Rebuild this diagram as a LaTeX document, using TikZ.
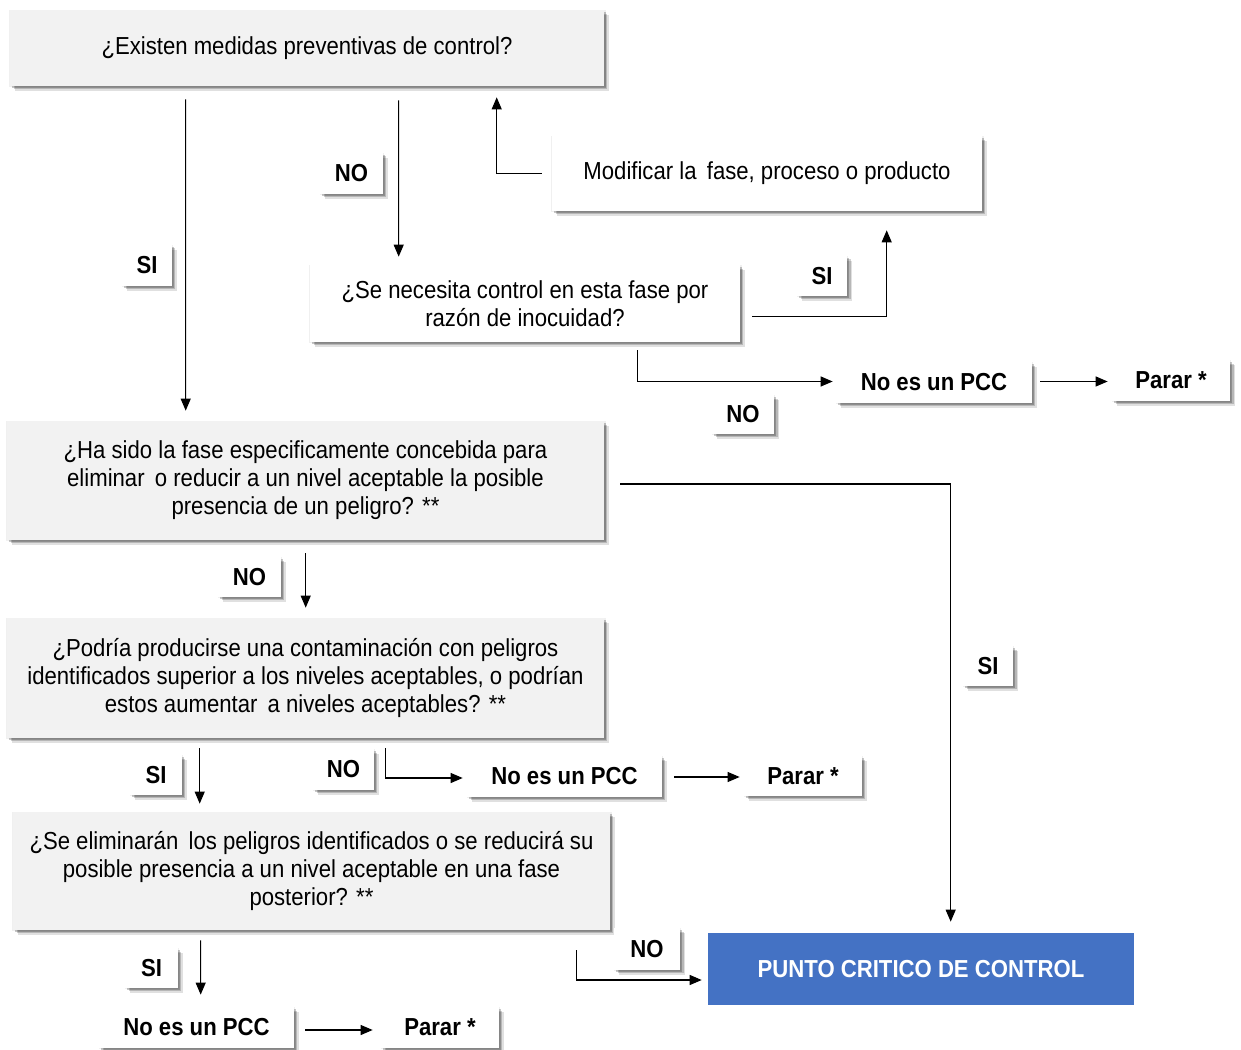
\documentclass[tikz,border=0pt]{standalone}
\usepackage{fontspec}
\setmainfont{Liberation Sans}[FakeStretch=0.9]
\usetikzlibrary{shadows,calc,arrows.meta}
\definecolor{qgray}{HTML}{F2F2F2}
\definecolor{pccblue}{HTML}{4472C4}
\begin{document}
\begin{tikzpicture}[x=0.02cm,y=-0.02cm,
  every node/.style={font=\fontsize{14}{16}\selectfont, inner sep=0pt, align=center},
  shad/.style={
    drop shadow={shadow xshift=0.1cm, shadow yshift=-0.1cm, fill=black, opacity=0.12},
    drop shadow={shadow xshift=0.07cm, shadow yshift=-0.07cm, fill=black, opacity=0.18},
    drop shadow={shadow xshift=0.04cm, shadow yshift=-0.04cm, fill=black, opacity=0.22},
    drop shadow={shadow xshift=0.01cm, shadow yshift=-0.01cm, shadow scale=1.006, fill=black, opacity=0.06}},
  qbox/.style={shad, fill=qgray},
  wbox/.style={shad, fill=white},
  lbl/.style={shad, fill=white, font=\fontsize{14}{16}\selectfont\bfseries},
  pccbox/.style={fill=pccblue, text=white, font=\fontsize{14}{16}\selectfont\bfseries},
  conn/.style={line width=0.6pt, -{Triangle[length=0.24cm,width=0.2cm]}}
]
\useasboundingbox[fill=white] (0,0) rectangle (1241,1050);

% main boxes
\node[qbox, minimum width=11.88cm, minimum height=1.52cm] (q1) at (307,48) {¿Existen medidas preventivas de control?};
\node[wbox, minimum width=8.6cm, minimum height=1.5cm] (mod) at (767,173.5) {Modificar la\, fase, proceso o producto};
\node[wbox, minimum width=8.6cm, minimum height=1.54cm] (q2) at (525,303.5) {¿Se necesita control en esta fase por\\razón de inocuidad?};
\node[qbox, minimum width=11.94cm, minimum height=2.38cm] (q3) at (305.5,480.5) {¿Ha sido la fase especificamente concebida para\\eliminar\, o reducir a un nivel aceptable la posible\\presencia de un peligro? **};
\node[qbox, minimum width=11.94cm, minimum height=2.4cm] (q4) at (305.5,678) {¿Podría producirse una contaminación con peligros\\identificados superior a los niveles aceptables, o podrían\\estos aumentar\, a niveles aceptables? **};
\node[qbox, minimum width=11.94cm, minimum height=2.36cm] (q5) at (311.5,871) {¿Se eliminarán\, los peligros identificados o se reducirá su\\posible presencia a un nivel aceptable en una fase\\posterior? **};
\node[pccbox, minimum width=8.52cm, minimum height=1.44cm] (pcc) at (921,969) {PUNTO CRITICO DE CONTROL};

% terminal boxes
\node[lbl, minimum width=3.92cm, minimum height=0.82cm] (npcc1) at (934,382.5) {No es un PCC};
\node[lbl, minimum width=2.36cm, minimum height=0.82cm] (parar1) at (1171,380.5) {Parar *};
\node[lbl, minimum width=3.9cm, minimum height=0.82cm] (npcc2) at (564.5,776.5) {No es un PCC};
\node[lbl, minimum width=2.36cm, minimum height=0.8cm] (parar2) at (803,776) {Parar *};
\node[lbl, minimum width=3.9cm, minimum height=0.82cm] (npcc3) at (196.5,1027.5) {No es un PCC};
\node[lbl, minimum width=2.36cm, minimum height=0.82cm] (parar3) at (440,1027.5) {Parar *};

% labels
\node[lbl, minimum width=1.26cm, minimum height=0.82cm] (lno1) at (351.5,173.5) {NO};
\node[lbl, minimum width=1.0cm, minimum height=0.82cm] (lsi1) at (147,265.5) {SI};
\node[lbl, minimum width=1.0cm, minimum height=0.8cm] (lsi2) at (822,276) {SI};
\node[lbl, minimum width=1.24cm, minimum height=0.78cm] (lno2) at (743,414.5) {NO};
\node[lbl, minimum width=1.26cm, minimum height=0.8cm] (lno3) at (249.5,577) {NO};
\node[lbl, minimum width=1.0cm, minimum height=0.8cm] (lsi6) at (988,666) {SI};
\node[lbl, minimum width=1.04cm, minimum height=0.8cm] (lsi4) at (156,775) {SI};
\node[lbl, minimum width=1.22cm, minimum height=0.82cm] (lno4) at (343.5,769.5) {NO};
\node[lbl, minimum width=1.06cm, minimum height=0.8cm] (lsi5) at (151.5,968) {SI};
\node[lbl, minimum width=1.32cm, minimum height=0.84cm] (lno5) at (647,949) {NO};

% connectors
\draw[conn] ($(q1.south west)+(176,13)$) -- ($(q3.north west)+(179,-10)$);
\draw[conn] ($(q1.south west)+(389,14)$) -- ($(q2.north west)+(89,-8)$);
\draw[conn] ($(mod.west)+(-10,0)$) -| ($(q1.south west)+(487,11)$);
\draw[conn] ($(q2.south east)+(12,-26)$) -| ($(mod.south west)+(335,19)$);
\draw[conn] ($(q2.south west)+(328,8)$) |- ($(npcc1.west)+(-3,-1)$);
\draw[conn] ($(npcc1.east)+(8,-1)$) -- ($(npcc1.east -| parar1.west)+(-4,-1)$);
\draw[conn] ($(q3.east)+(16,3.5)$) -| ($(pcc.north west)+(243,-11)$);
\draw[conn] ($(q3.south west)+(299,13)$) -- ($(q4.north west)+(299,-10)$);
\draw[conn] ($(q4.south west)+(193,10)$) -- ($(q5.north west)+(187,-8)$);
\draw[conn] ($(q4.south west)+(379,10)$) |- ($(npcc2.west)+(-4,1.5)$);
\draw[conn] ($(npcc2.east)+(12,0.5)$) -- ($(npcc2.east -| parar2.west)+(-4,0.5)$);
\draw[conn] ($(q5.south west)+(188,10)$) -- ($(npcc3.north west)+(102,-12)$);
\draw[conn] ($(npcc3.east)+(11,2.5)$) -- ($(npcc3.east -| parar3.west)+(-8,2.5)$);
\draw[conn] ($(q5.south west)+(564,20)$) |- ($(pcc.west)+(-6,11)$);
\end{tikzpicture}
\end{document}
